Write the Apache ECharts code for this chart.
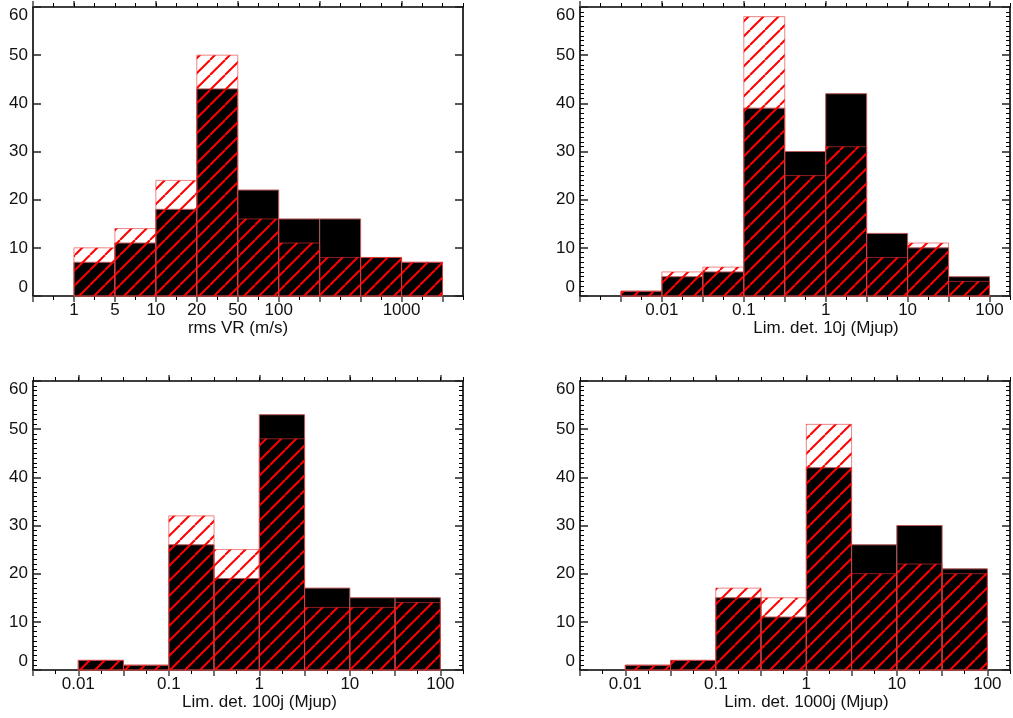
<!DOCTYPE html>
<html><head><meta charset="utf-8">
<script src="https://cdn.jsdelivr.net/npm/echarts@6/dist/echarts.min.js"></script>
<style>html,body{margin:0;padding:0;background:#fff}#c{width:1013px;height:718px}</style>
</head><body><div id="c"></div>
<script>
// ---- Panel 1: rms VR (m/s), equally spaced bins (edge labels by bin index)
const rmsEdgeLabels = ['1','5','10','20','50','100','','','1000',''];
const rmsBlack = [7, 11, 18, 43, 22, 16, 16, 8, 7];
const rmsRed   = [10, 14, 24, 50, 16, 11, 8, 8, 7];

// ---- Panels 2-4: bin edges given as log10(Mjup), half-decade bins
const lim10Edges = [-2.5, -2, -1.5, -1, -0.5, 0, 0.5, 1, 1.5, 2];
const lim10Black = [1, 4, 5, 39, 30, 42, 13, 10, 4];
const lim10Red   = [1, 5, 6, 58, 25, 31, 8, 11, 3];

const lim100Edges = [-2, -1.5, -1, -0.5, 0, 0.5, 1, 1.5, 2];
const lim100Black = [2, 1, 26, 19, 53, 17, 15, 15];
const lim100Red   = [2, 1, 32, 25, 48, 13, 13, 14];

const lim1000Edges = [-2, -1.5, -1, -0.5, 0, 0.5, 1, 1.5, 2];
const lim1000Black = [1, 2, 15, 11, 42, 26, 30, 21];
const lim1000Red   = [1, 2, 17, 15, 51, 20, 22, 20];

// decade tick labels for the log axes
const decadeExps   = [-2, -1, 0, 1, 2];
const decadeLabels = ['0.01', '0.1', '1', '10', '100'];

const xTitles = ['rms VR (m/s)', 'Lim. det. 10j (Mjup)', 'Lim. det. 100j (Mjup)', 'Lim. det. 1000j (Mjup)'];

// ------------------------------------------------------------------
const FONT = "'Liberation Sans', Arial, Helvetica, sans-serif";
const TXT = '#111';

function range(a, b, s) { const r = []; for (let v = a; v <= b + 1e-9; v += s) r.push(Math.round(v * 1000) / 1000); return r; }

// hatch pattern: red 45deg lines
const hatch = (function () {
  const s = 15, c = document.createElement('canvas');
  c.width = s; c.height = s;
  const g = c.getContext('2d');
  g.strokeStyle = '#ff0000'; g.lineWidth = 2;
  for (let k = -1; k <= 1; k++) { g.beginPath(); g.moveTo(k * s, s); g.lineTo(k * s + s, 0); g.stroke(); }
  return c;
})();

const grids = [
  { left: 33, top: 7, width: 430, height: 289 },
  { left: 580, top: 7, width: 430, height: 289 },
  { left: 33, top: 381, width: 430, height: 289 },
  { left: 580, top: 381, width: 430, height: 289 }
];

const panels = [
  { edges: rmsEdgeLabels.map((_, i) => i), black: rmsBlack, red: rmsRed, min: -1, max: 9.5,
    botMajor: range(-1, 9, 1), botMinor: range(-0.5, 9.5, 1), topMajor: range(-1, 9, 1).filter(v => v % 2 === 0 || v === -1), topMinor: range(-0.5, 9.5, 0.5),
    labelVals: rmsEdgeLabels.map((_, i) => i), labelFn: v => rmsEdgeLabels[Math.round(v)] || '', minorY: false, namePad: [0, 20, 0, 0] },
  { edges: lim10Edges, black: lim10Black, red: lim10Red, min: -3, max: 2.25,
    botMajor: range(-3, 2, 0.5), botMinor: range(-2.75, 2.25, 0.5), topMajor: range(-3, 2, 1), topMinor: range(-2.75, 2.25, 0.25),
    labelVals: decadeExps, labelFn: v => decadeLabels[decadeExps.indexOf(Math.round(v))] || '', minorY: true, namePad: [0, 0, 0, 62] },
  { edges: lim100Edges, black: lim100Black, red: lim100Red, min: -2.5, max: 2.25,
    botMajor: range(-2.5, 2, 0.5), botMinor: range(-2.25, 2.25, 0.5), topMajor: range(-2, 2, 1), topMinor: range(-2.5, 2.25, 0.25),
    labelVals: decadeExps, labelFn: v => decadeLabels[decadeExps.indexOf(Math.round(v))] || '', minorY: true, namePad: [0, 0, 0, 23] },
  { edges: lim1000Edges, black: lim1000Black, red: lim1000Red, min: -2.5, max: 2.25,
    botMajor: range(-2.5, 2, 0.5), botMinor: range(-2.25, 2.25, 0.5), topMajor: range(-2, 2, 1), topMinor: range(-2.5, 2.25, 0.25),
    labelVals: decadeExps, labelFn: v => decadeLabels[decadeExps.indexOf(Math.round(v))] || '', minorY: true, namePad: [0, 0, 0, 23] }
];

const xAxes = [], yAxes = [], series = [];
const AX = { lineStyle: { color: '#000', width: 1.6 } };

panels.forEach((p, k) => {
  const base = { gridIndex: k, type: 'value', min: p.min, max: p.max, splitLine: { show: false } };
  // bottom: labels + major ticks + axis line
  xAxes.push(Object.assign({}, base, {
    position: 'bottom', axisLine: Object.assign({ show: true, onZero: false }, AX),
    axisTick: { show: true, customValues: p.botMajor, length: 6, lineStyle: { color: '#444', width: 1.5 } },
    axisLabel: { show: true, customValues: p.labelVals, formatter: p.labelFn, margin: 6, color: TXT, fontSize: 17, fontFamily: FONT },
    name: xTitles[k], nameLocation: 'middle', nameGap: 21,
    nameTextStyle: { color: TXT, fontSize: 17, fontFamily: FONT, padding: p.namePad }
  }));
  // bottom minor ticks
  xAxes.push(Object.assign({}, base, {
    position: 'bottom', axisLine: { show: false, onZero: false },
    axisTick: { show: true, customValues: p.botMinor, length: 4, lineStyle: { color: '#000', width: 1 } },
    axisLabel: { show: false }
  }));
  // top major
  xAxes.push(Object.assign({}, base, {
    position: 'top', axisLine: Object.assign({ show: true, onZero: false }, AX),
    axisTick: { show: true, customValues: p.topMajor, length: 6, lineStyle: { color: '#444', width: 1.5 } },
    axisLabel: { show: false }
  }));
  // top minor
  xAxes.push(Object.assign({}, base, {
    position: 'top', axisLine: { show: false, onZero: false },
    axisTick: { show: true, customValues: p.topMinor, length: 4, lineStyle: { color: '#000', width: 1 } },
    axisLabel: { show: false }
  }));
  const ybase = { gridIndex: k, type: 'value', min: 0, max: 60, interval: 10, splitLine: { show: false },
    axisLine: Object.assign({ show: true, onZero: false }, AX),
    axisTick: { show: true, inside: true, length: 8, lineStyle: { color: '#222', width: 1.5 } },
    minorTick: { show: p.minorY, splitNumber: 10, length: 4, lineStyle: { color: '#000', width: 1 } } };
  yAxes.push(Object.assign({}, ybase, { position: 'left',
    axisLabel: { show: true, margin: 5, color: TXT, fontSize: 17, fontFamily: FONT,
      verticalAlignMinLabel: 'bottom', verticalAlignMaxLabel: 'top' } }));
  yAxes.push(Object.assign({}, ybase, { position: 'right', axisLabel: { show: false } }));

  const mk = (vals, kind) => ({
    type: 'custom', xAxisIndex: 4 * k, yAxisIndex: 2 * k,
    data: vals.map((v, i) => [p.edges[i], p.edges[i + 1], v]),
    encode: { x: [0, 1], y: 2 },
    silent: true,
    renderItem: (params, api) => {
      const a = api.coord([api.value(0), 0]);
      const b = api.coord([api.value(1), api.value(2)]);
      return {
        type: 'rect',
        shape: { x: a[0], y: b[1], width: b[0] - a[0], height: a[1] - b[1] },
        style: kind === 'black'
          ? { fill: '#000', stroke: '#b85a5a', lineWidth: 1 }
          : { fill: { image: hatch, repeat: 'repeat' }, stroke: 'rgba(230,50,50,0.6)', lineWidth: 1 }
      };
    }
  });
  series.push(mk(p.black, 'black'));
  series.push(mk(p.red, 'red'));
});

const chart = echarts.init(document.getElementById('c'), null, { renderer: 'canvas' });
chart.setOption({
  animation: false,
  backgroundColor: '#fff',
  grid: grids,
  xAxis: xAxes,
  yAxis: yAxes,
  series: series
});
</script>
</body></html>
